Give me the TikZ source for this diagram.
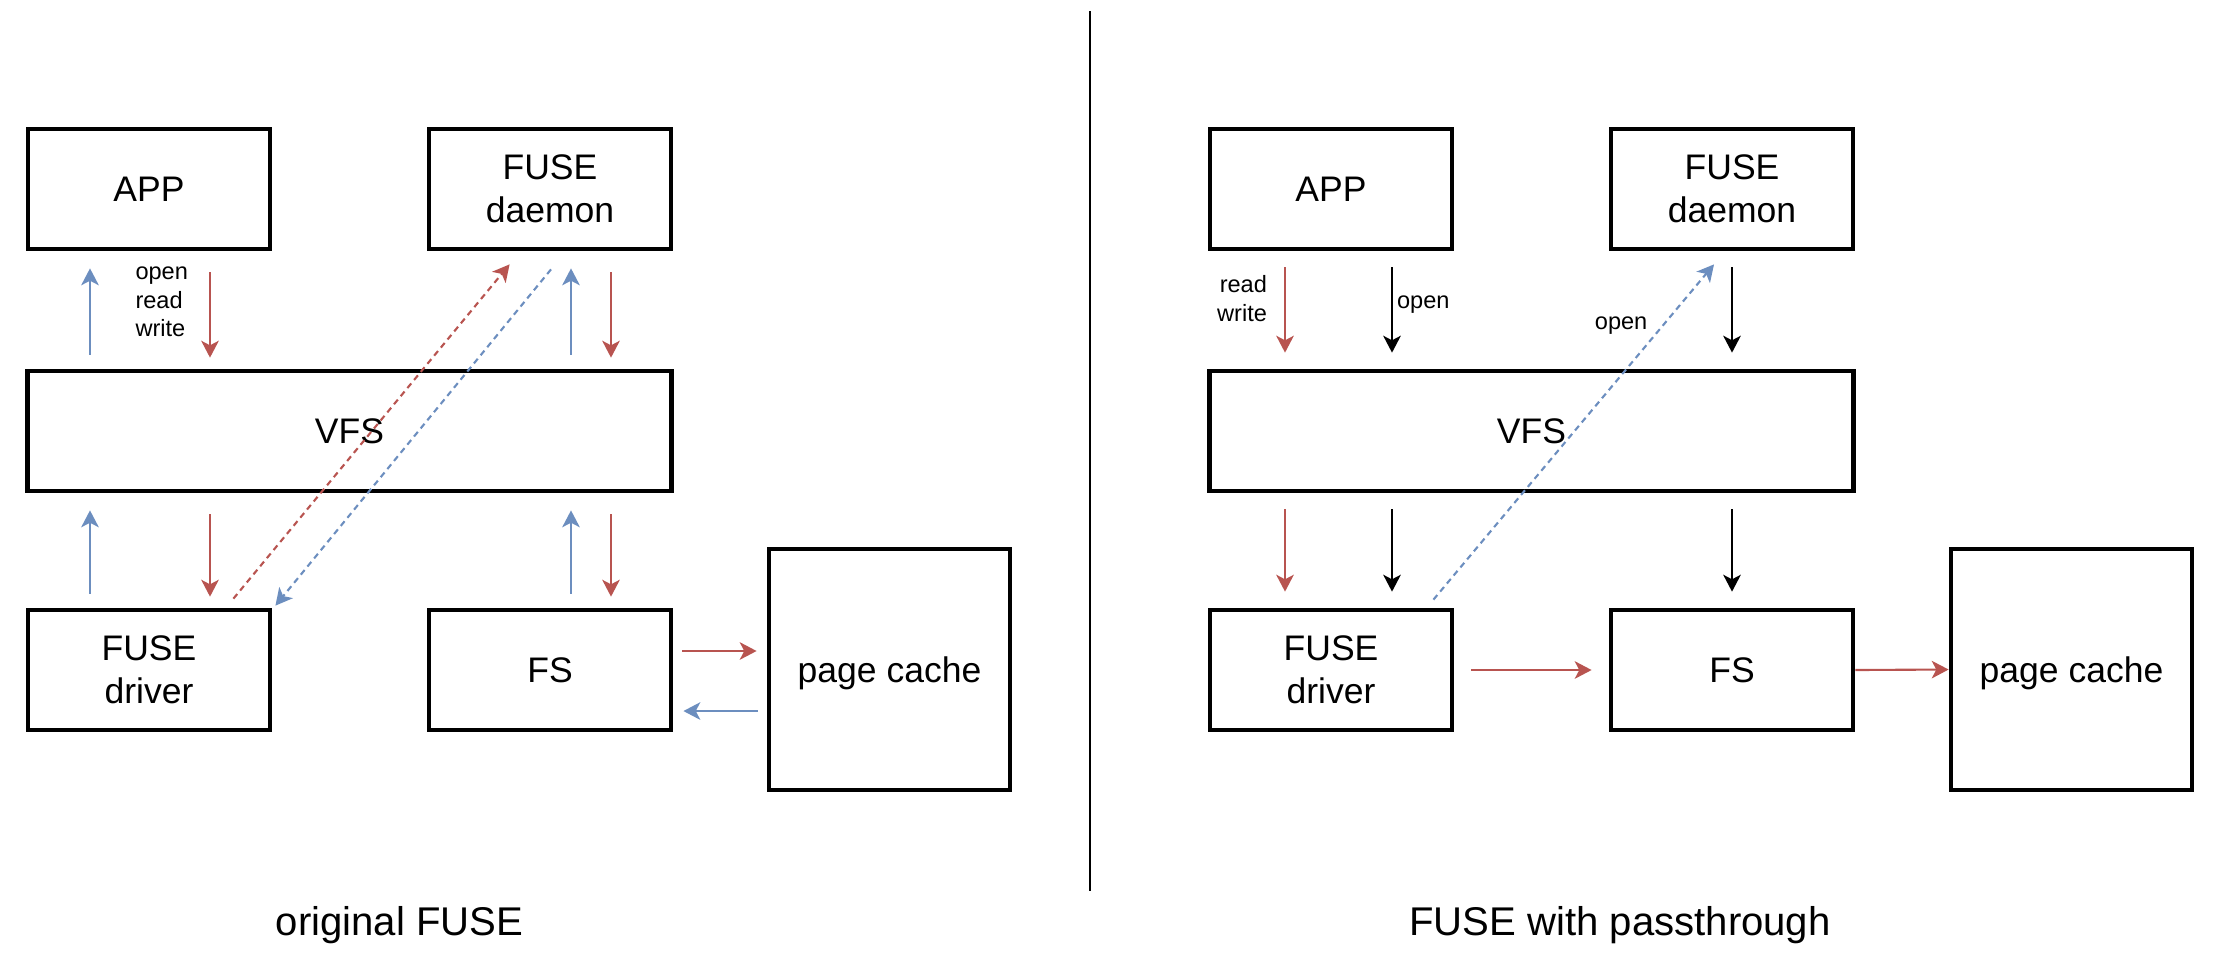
\documentclass[tikz,border=0pt]{standalone}
\usepackage{fontspec}
\setmainfont{Liberation Sans}
\usepackage{tikz}
\usetikzlibrary{calc,arrows.meta,positioning}
\definecolor{fuseRed}{RGB}{184,84,80}
\definecolor{fuseBlue}{RGB}{108,142,191}
\newcommand{\boxfont}{\fontsize{10.1}{12.2}\selectfont}
\newcommand{\lblfont}{\fontsize{6.7}{8.2}\selectfont}
\newcommand{\capfont}{\fontsize{11.4}{13.7}\selectfont}

\begin{document}
\begin{tikzpicture}[x=0.01cm, y=-0.01cm,
  layer/.style={draw, line width=1.33pt, minimum width=2.42cm, minimum height=1.2cm,
    inner sep=0pt, align=center, font=\boxfont},
  callarr/.style={line width=0.6pt, -{Stealth[length=4.8pt,width=5pt,inset=1.3pt]}},
  req/.style={callarr, fuseRed, shorten <=0.21cm, shorten >=0.11cm},
  reply/.style={callarr, fuseBlue, shorten <=0.14cm, shorten >=0.17cm},
  ctl/.style={callarr, black, shorten <=0.16cm, shorten >=0.16cm},
  side/.style={callarr, shorten <=0.09cm, shorten >=0.10cm},
  hop/.style={callarr, dash pattern=on 0.06cm off 0.045cm},
  lbl/.style={font=\lblfont, text=black, inner sep=0pt}]
\useasboundingbox (0,0) rectangle (2228,960);

% original FUSE
\node[layer] (appL) at (149,189) {APP};
\node[layer] (daemonL) at (550,189) {FUSE\\daemon};
\node[layer, minimum width=6.43cm] (vfsL) at (349.5,431) {VFS};
\node[layer] (drvL) at (149,670) {FUSE\\driver};
\node[layer] (fsL) at (550,670) {FS};
\node[layer, minimum width=2.41cm, minimum height=2.41cm, text depth=0pt] (cacheL) at (889.5,669.5) {page cache};

\coordinate (l1) at (90,0);
\coordinate (l2) at (210,0);
\coordinate (l3) at (571,0);
\coordinate (l4) at (611,0);

\draw[reply] (l1 |- vfsL.north) -- (l1 |- appL.south);
\draw[req] (l2 |- appL.south) -- (l2 |- vfsL.north)
  node[lbl, pos=0.43, left=0.21cm, align=left] {open\\read\\write};
\draw[reply] (l3 |- vfsL.north) -- (l3 |- daemonL.south);
\draw[req] (l4 |- daemonL.south) -- (l4 |- vfsL.north);

\draw[reply] (l1 |- drvL.north) -- (l1 |- vfsL.south);
\draw[req] (l2 |- vfsL.south) -- (l2 |- drvL.north);
\draw[reply] (l3 |- fsL.north) -- (l3 |- vfsL.south);
\draw[req] (l4 |- vfsL.south) -- (l4 |- fsL.north);

\draw[hop, fuseRed] ([shift={(-39,-9)}]drvL.north east) -- ([shift={(83,13)}]daemonL.south west);
\draw[hop, fuseBlue] ([shift={(1,18)}]daemonL.south) -- ([shift={(3,-2)}]drvL.north east);

\draw[side, fuseRed] ([yshift=0.19cm]fsL.east) -- ([yshift=0.19cm]fsL.east -| cacheL.west);
\draw[side, fuseBlue] ([yshift=-0.41cm]fsL.east -| cacheL.west) -- ([yshift=-0.41cm]fsL.east);

% divider
\draw[line width=0.45pt] (1090,11) -- (1090,891);

% FUSE with passthrough
\node[layer] (appR) at (1331,189) {APP};
\node[layer] (daemonR) at (1732,189) {FUSE\\daemon};
\node[layer, minimum width=6.43cm] (vfsR) at (1531.5,431) {VFS};
\node[layer] (drvR) at (1331,670) {FUSE\\driver};
\node[layer] (fsR) at (1732,670) {FS};
\node[layer, minimum width=2.41cm, minimum height=2.41cm, text depth=0pt] (cacheR) at (2071.5,669.5) {page cache};

\coordinate (r1) at (1285,0);
\coordinate (r2) at (1392,0);

\draw[ctl, fuseRed] (r1 |- appR.south) -- (r1 |- vfsR.north)
  node[lbl, pos=0.40, left=0.17cm, align=right] {read\\write};
\draw[ctl] (r2 |- appR.south) -- (r2 |- vfsR.north)
  node[lbl, pos=0.45, right=0.04cm] {open};
\draw[ctl] (daemonR.south) -- (daemonR.south |- vfsR.north);

\draw[ctl, fuseRed] (r1 |- vfsR.south) -- (r1 |- drvR.north);
\draw[ctl] (r2 |- vfsR.south) -- (r2 |- drvR.north);
\draw[ctl] (fsR.north |- vfsR.south) -- (fsR.north);

\draw[hop, fuseBlue] ([shift={(-21,-8)}]drvR.north east) -- ([shift={(-18,13)}]daemonR.south)
  node[lbl, pos=0.816, left=0.14cm] {open};

\draw[callarr, fuseRed, shorten <=0.17cm, shorten >=0.17cm] (drvR.east) -- (fsR.west);
\draw[callarr, fuseRed] (fsR.east) -- (cacheR.west);

% captions
\node[font=\capfont, anchor=base] (capL) at (399.5,935) {original FUSE};
\node[font=\capfont, anchor=base] (capR) at (1620,935) {FUSE with passthrough};
\end{tikzpicture}
\end{document}
